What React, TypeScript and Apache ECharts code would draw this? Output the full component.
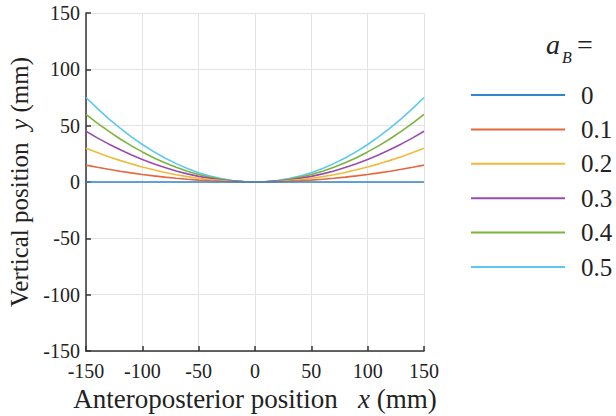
import React, { useEffect, useRef } from "react";
import * as echarts from "echarts";

const xPositions = [
  -150, -140, -130, -120, -110, -100, -90, -80, -70, -60, -50, -40, -30, -20, -10, 0,
  10, 20, 30, 40, 50, 60, 70, 80, 90, 100, 110, 120, 130, 140, 150,
];
const seriesNames = ["0", "0.1", "0.2", "0.3", "0.4", "0.5"];
const y0 = [
  0, 0, 0, 0, 0, 0, 0, 0, 0, 0, 0, 0, 0, 0, 0, 0,
  0, 0, 0, 0, 0, 0, 0, 0, 0, 0, 0, 0, 0, 0, 0,
];
const y01 = [
  15, 13.1, 11.3, 9.6, 8.1, 6.7, 5.4, 4.3, 3.3, 2.4, 1.7, 1.1, 0.6, 0.3, 0.1, 0,
  0.1, 0.3, 0.6, 1.1, 1.7, 2.4, 3.3, 4.3, 5.4, 6.7, 8.1, 9.6, 11.3, 13.1, 15,
];
const y02 = [
  30, 26.1, 22.5, 19.2, 16.1, 13.3, 10.8, 8.5, 6.5, 4.8, 3.3, 2.1, 1.2, 0.5, 0.1, 0,
  0.1, 0.5, 1.2, 2.1, 3.3, 4.8, 6.5, 8.5, 10.8, 13.3, 16.1, 19.2, 22.5, 26.1, 30,
];
const y03 = [
  45, 39.2, 33.8, 28.8, 24.2, 20, 16.2, 12.8, 9.8, 7.2, 5, 3.2, 1.8, 0.8, 0.2, 0,
  0.2, 0.8, 1.8, 3.2, 5, 7.2, 9.8, 12.8, 16.2, 20, 24.2, 28.8, 33.8, 39.2, 45,
];
const y04 = [
  60, 52.3, 45.1, 38.4, 32.3, 26.7, 21.6, 17.1, 13.1, 9.6, 6.7, 4.3, 2.4, 1.1, 0.3, 0,
  0.3, 1.1, 2.4, 4.3, 6.7, 9.6, 13.1, 17.1, 21.6, 26.7, 32.3, 38.4, 45.1, 52.3, 60,
];
const y05 = [
  75, 65.3, 56.3, 48, 40.3, 33.3, 27, 21.3, 16.3, 12, 8.3, 5.3, 3, 1.3, 0.3, 0,
  0.3, 1.3, 3, 5.3, 8.3, 12, 16.3, 21.3, 27, 33.3, 40.3, 48, 56.3, 65.3, 75,
];
const seriesValues = [y0, y01, y02, y03, y04, y05];
const colors = ["#2f86cf", "#e5673c", "#f0bb3c", "#9a4bb0", "#7ab43c", "#5cc8f0"];
const axisTicks = [-150, -100, -50, 0, 50, 100, 150];

const FONT = "'Liberation Serif', 'Times New Roman', serif";

function nameStyle(size: number) {
  return {
    color: "#222",
    fontFamily: FONT,
    fontSize: size,
    rich: {
      n: { fontFamily: FONT, fontSize: size, color: "#222" },
      i: { fontFamily: FONT, fontSize: size, fontStyle: "italic", color: "#222" },
    },
  };
}

export default function App() {
  const ref = useRef<HTMLDivElement>(null);
  useEffect(() => {
    const chart = echarts.init(ref.current!, null, { renderer: "svg" });
    const axisCommon = {
      type: "value" as const,
      min: axisTicks[0],
      max: axisTicks[axisTicks.length - 1],
      interval: 50,
      axisLine: { show: true, onZero: false, lineStyle: { color: "#333", width: 1.5 } },
      axisTick: { show: true, inside: true, length: 5, lineStyle: { color: "#333", width: 1.5 } },
      splitLine: { show: true, lineStyle: { color: "#e3e3e3", width: 1 } },
      axisLabel: { color: "#222", fontFamily: FONT, fontSize: 20 },
      nameLocation: "middle" as const,
    };
    chart.setOption({
      animation: false,
      backgroundColor: "#fff",
      grid: { left: 86, top: 13, width: 338, height: 338, containLabel: false, outerBoundsMode: "none" },
      xAxis: {
        ...axisCommon,
        name: "{n|Anteroposterior position   }{i|x}{n| (mm)}",
        nameGap: 34,
        nameTextStyle: nameStyle(27),
        axisLabel: { ...axisCommon.axisLabel, margin: 10 },
      },
      yAxis: {
        ...axisCommon,
        name: "{n|Vertical position  }{i|y}{n| (mm)}",
        nameGap: 35,
        nameRotate: 90,
        nameTextStyle: nameStyle(25),
        axisLabel: { ...axisCommon.axisLabel, margin: 6 },
      },
      legend: {
        orient: "vertical",
        left: 466,
        top: 77,
        icon: "rect",
        itemWidth: 94,
        itemHeight: 2,
        itemGap: 8.4,
        textStyle: { fontFamily: FONT, fontSize: 25, color: "#222", lineHeight: 26, padding: [0, 0, 0, 11] },
        data: seriesNames,
      },
      graphic: [
        {
          type: "text",
          x: 546,
          y: 30,
          style: { text: "a", font: "italic 28px 'Liberation Serif', serif", fill: "#222", verticalAlign: "top" },
        },
        {
          type: "text",
          x: 562,
          y: 49,
          style: { text: "B", font: "italic 16px 'Liberation Serif', serif", fill: "#222", verticalAlign: "top" },
        },
        {
          type: "text",
          x: 577,
          y: 30,
          style: { text: "=", font: "28px 'Liberation Serif', serif", fill: "#222", verticalAlign: "top" },
        },
      ],
      series: seriesNames.map((name, i) => ({
        name,
        type: "line",
        data: xPositions.map((x, j) => [x, seriesValues[i][j]]),
        smooth: false,
        symbol: "none",
        lineStyle: { color: colors[i], width: 1.6 },
        itemStyle: { color: colors[i] },
        z: 10 - i,
      })),
    });
    return () => chart.dispose();
  }, []);
  return <div ref={ref} style={{ position: "fixed", left: 0, top: 0, width: 616, height: 416 }} />;
}
